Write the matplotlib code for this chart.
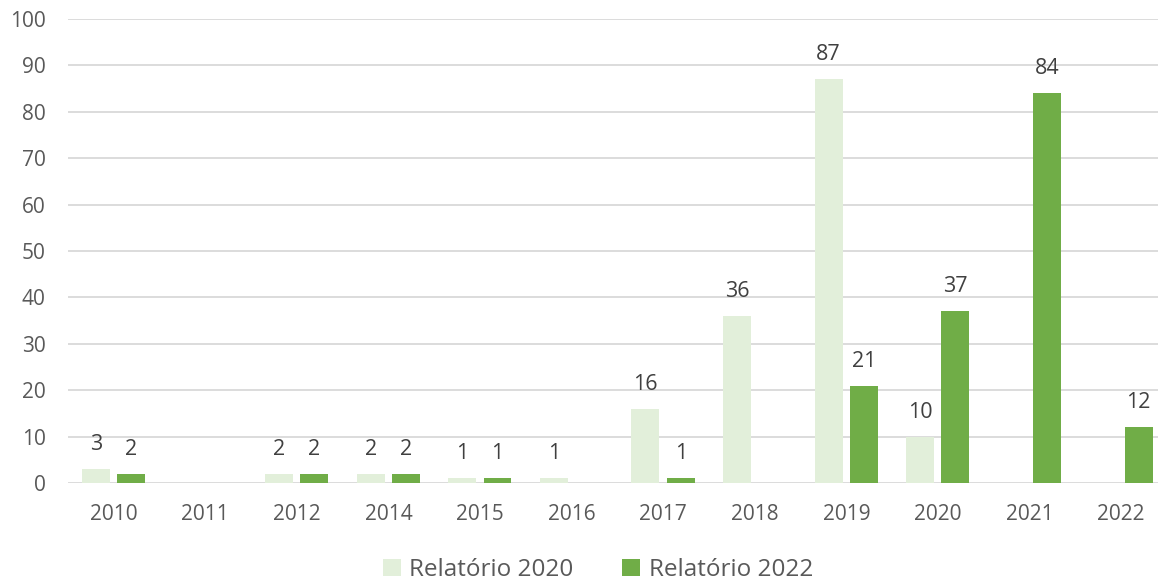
import numpy as np
import matplotlib
matplotlib.use("Agg")
import matplotlib.pyplot as plt
from matplotlib.patches import Patch

years = ["2010", "2011", "2012", "2014", "2015", "2016", "2017", "2018", "2019", "2020", "2021", "2022"]
rel_2020 = [3, None, 2, 2, 1, 1, 16, 36, 87, 10, None, None]
rel_2022 = [2, None, 2, 2, 1, None, 1, None, 21, 37, 84, 12]
series_names = ["Relatório 2020", "Relatório 2022"]
colors = ["#e2efda", "#70ad47"]
yticks = list(range(0, 101, 10))

plt.rcParams['font.family'] = ['Open Sans', 'DejaVu Sans']

fig = plt.figure(figsize=(11.58, 5.8), dpi=100)
ax = fig.add_axes([68/1158, 97/580, 1099/1158, 464/580])

x = np.arange(len(years))
w = 0.305
offsets = [-0.195, 0.19]
for vals, off, col in zip([rel_2020, rel_2022], offsets, colors):
    v = np.array([np.nan if a is None else a for a in vals], dtype=float)
    ax.bar(x + off, np.nan_to_num(v), width=w, color=col, zorder=3)
    for xi, val in zip(x, vals):
        if val is None:
            continue
        ax.annotate(str(val), (xi + off, val), xytext=(0, 10), textcoords="offset points",
                    ha="center", va="bottom", fontsize=15.5, color="#404040")

ax.set_xlim(-0.5, len(years) - 0.5)
ax.set_ylim(0, 100)
ax.set_yticks(yticks)
ax.set_xticks(x)
ax.set_xticklabels(years)
ax.yaxis.grid(True, color="#d9d9d9", linewidth=1.3, zorder=0)
ax.set_axisbelow(True)
for s in ax.spines.values():
    s.set_visible(False)
ax.tick_params(axis="both", length=0, labelsize=15, colors="#595959")
ax.tick_params(axis="y", pad=16)
ax.tick_params(axis="x", pad=15)

handles = [Patch(facecolor=c, edgecolor="none") for c in colors]
fig.legend(handles, series_names, loc="center", bbox_to_anchor=(598/1158, 1 - 570/580),
           ncol=2, frameon=False, fontsize=17.5, labelcolor="#595959",
           handlelength=0.75, handleheight=0.75, handletextpad=0.35, columnspacing=2.0)

fig.savefig("out.png", dpi=100)
